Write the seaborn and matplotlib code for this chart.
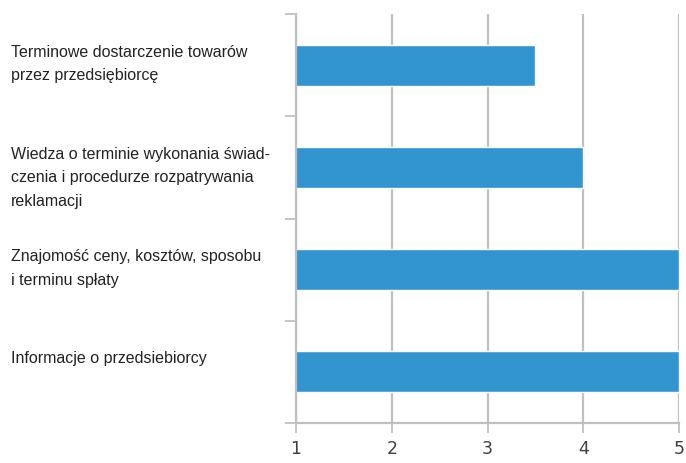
import matplotlib
matplotlib.use("Agg")
import matplotlib.pyplot as plt
import matplotlib.transforms as mtransforms
import seaborn as sns
import pandas as pd

categories = [
    "Terminowe dostarczenie towarów\nprzez przedsiębiorcę",
    "Wiedza o terminie wykonania świad-\nczenia i procedurze rozpatrywania\nreklamacji",
    "Znajomość ceny, kosztów, sposobu\ni terminu spłaty",
    "Informacje o przedsiebiorcy",
]
values = [3.5, 4, 5, 5]
x_ticks = [1, 2, 3, 4, 5]

df = pd.DataFrame({"kategoria": categories, "ocena": values})

sns.set_style("white")
plt.rcParams["font.family"] = ["Liberation Sans", "DejaVu Sans"]

fig = plt.figure(figsize=(6.86, 4.63), dpi=100)
ax = fig.add_axes([296 / 686, 40 / 463, 383 / 686, 409 / 463])

grid_col = "#c0c0c0"
for xv in x_ticks:
    ax.axvline(xv, color=grid_col, lw=1.6, zorder=0)

sns.barplot(data=df, x="ocena", y="kategoria", orient="h", color="#3395d0",
            width=0.4, saturation=1, ax=ax, zorder=2)

ax.set_xlim(1, 5)
ax.set_ylim(3.5, -0.5)
ax.set_xticks(x_ticks)
ax.set_xticklabels([str(v) for v in x_ticks], fontsize=12.5, color="#404040",
                   family=["DejaVu Sans"])
ax.tick_params(axis="x", bottom=True, length=7, width=1.3, color=grid_col, pad=5)
ax.set_yticks([-0.5, 0.5, 1.5, 2.5, 3.5])
ax.set_yticklabels([])
ax.tick_params(axis="y", left=True, length=8, width=1.3, color=grid_col)
ax.set_xlabel("")
ax.set_ylabel("")

for side in ["top", "right"]:
    ax.spines[side].set_visible(False)
for side in ["left", "bottom"]:
    ax.spines[side].set_color(grid_col)
    ax.spines[side].set_linewidth(1.6)

trans = mtransforms.blended_transform_factory(fig.transFigure, ax.transData)
for i, lab in enumerate(categories):
    ax.text(11 / 686, i - 0.2, lab, transform=trans, ha="left", va="top",
            fontsize=11.5, color="#222222", linespacing=1.7, clip_on=False)

fig.savefig("out.png", dpi=100)
